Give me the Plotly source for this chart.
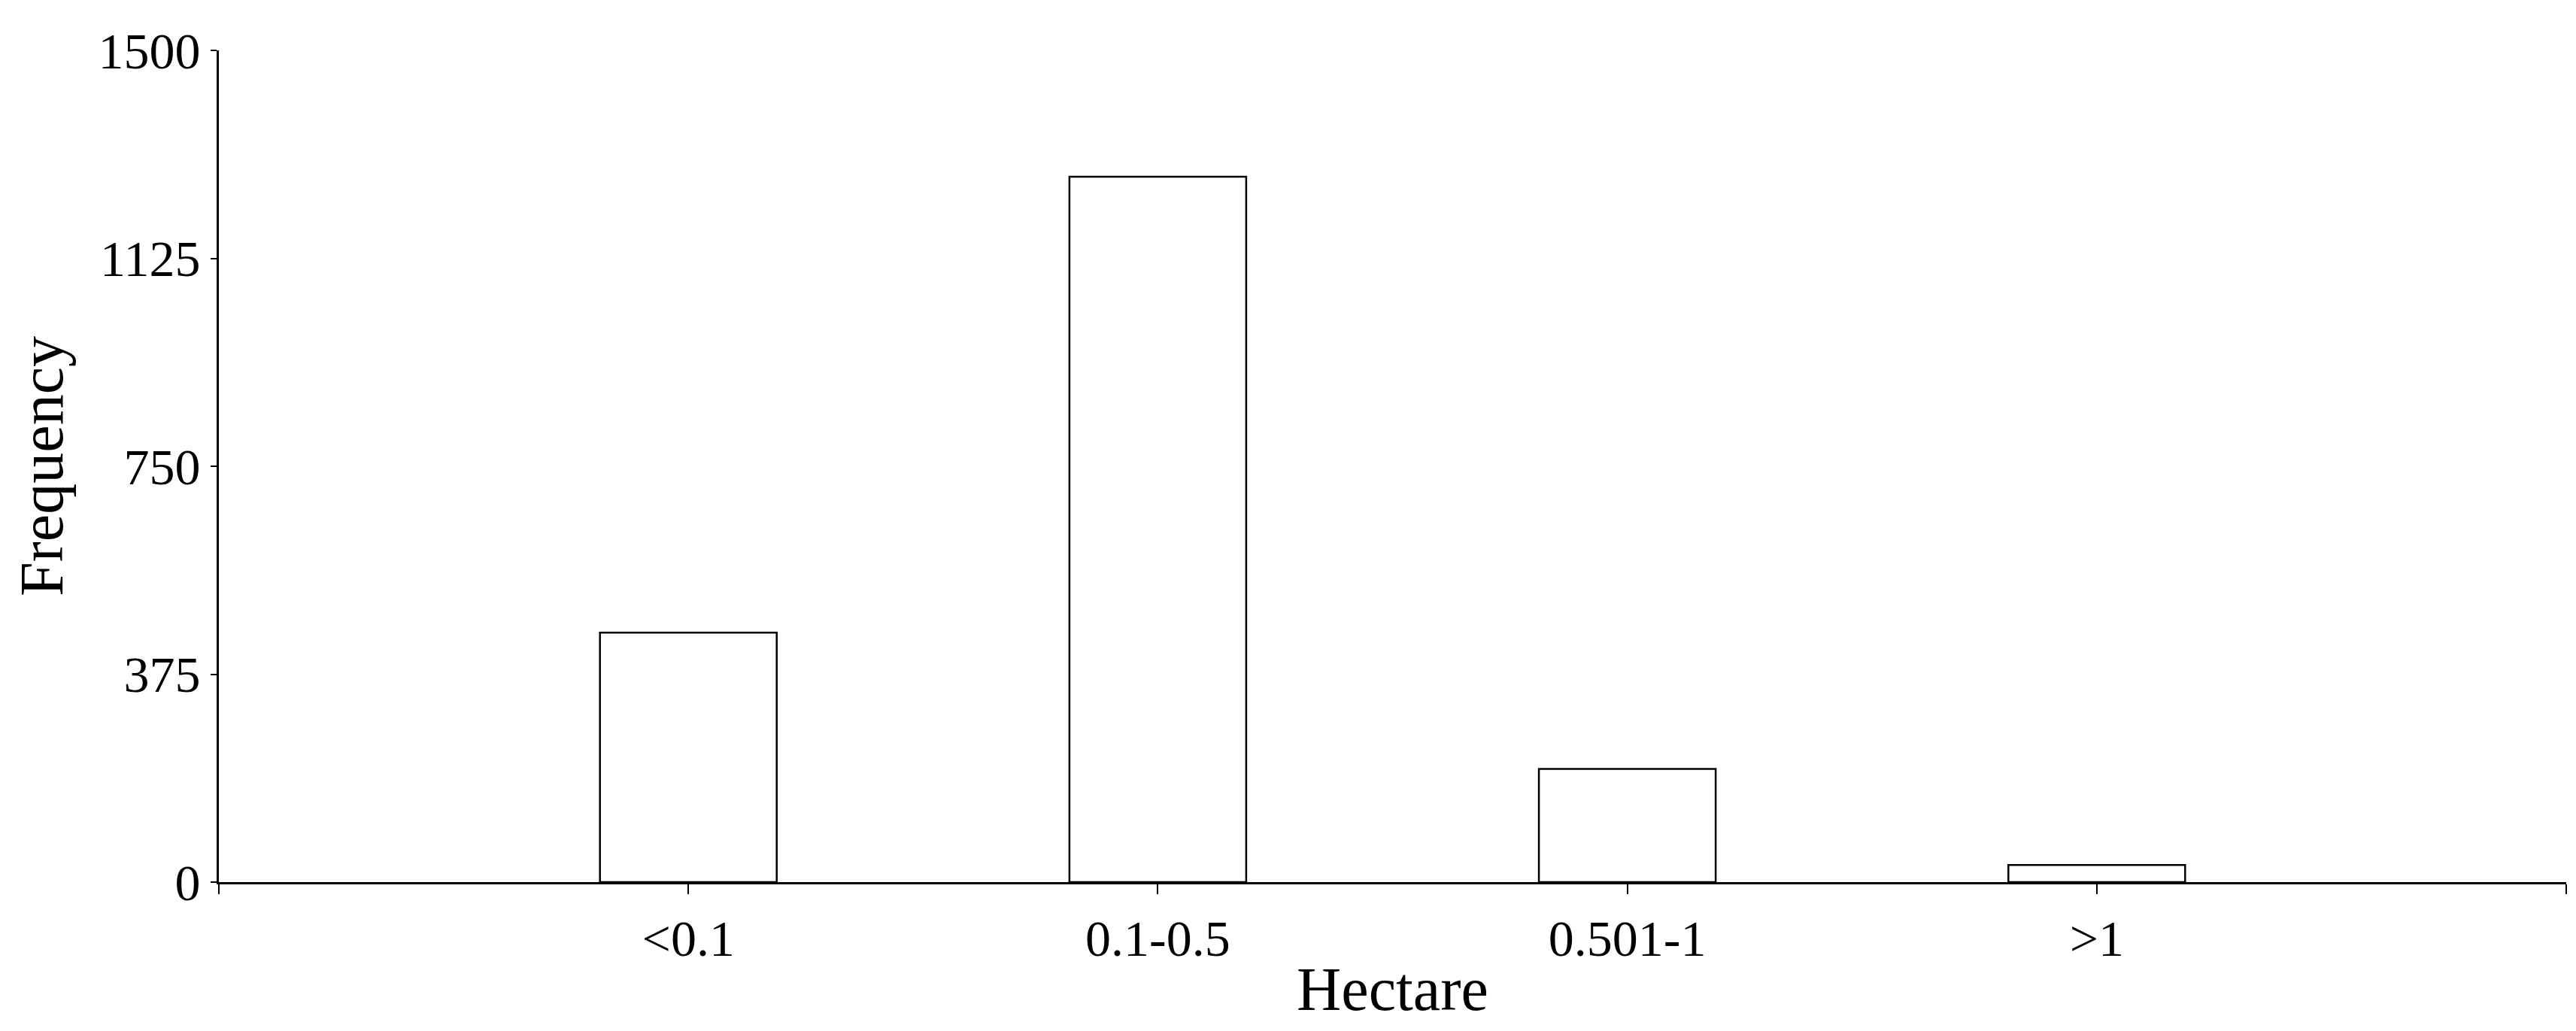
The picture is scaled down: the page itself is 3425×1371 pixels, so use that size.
import plotly.graph_objects as go

categories = ["<0.1", "0.1-0.5", "0.501-1", ">1"]
frequency = [450, 1272, 204, 31]
y_ticks = [0, 375, 750, 1125, 1500]

font_name = "Liberation Serif"

positions = list(range(len(categories)))

fig = go.Figure(go.Bar(
    x=positions,
    y=frequency,
    width=0.3765,
    marker=dict(color="white", line=dict(color="black", width=2.5)),
))

fig.update_layout(
    width=3425, height=1371,
    paper_bgcolor="white", plot_bgcolor="white",
    margin=dict(l=283, r=21, t=59, b=206),
    font=dict(family=font_name, size=68, color="black"),
    showlegend=False,
)

fig.update_xaxes(
    range=[-1, len(categories)],
    tickmode="array",
    tickvals=[-1] + positions + [len(categories)],
    ticktext=[""] + categories + [""],
    ticks="outside", ticklen=13, tickwidth=2, tickcolor="black",
    showline=True, linecolor="black", linewidth=3,
    showgrid=False, zeroline=False,
    title=dict(text="Hectare", standoff=2),
)

fig.update_yaxes(
    range=[0, 1500],
    tickmode="array", tickvals=y_ticks,
    ticks="outside", ticklen=8, tickwidth=2, tickcolor="black",
    showline=True, linecolor="black", linewidth=3,
    showgrid=False, zeroline=False,
    title=dict(text="Frequency", standoff=20),
)

fig.write_html("out.html")
